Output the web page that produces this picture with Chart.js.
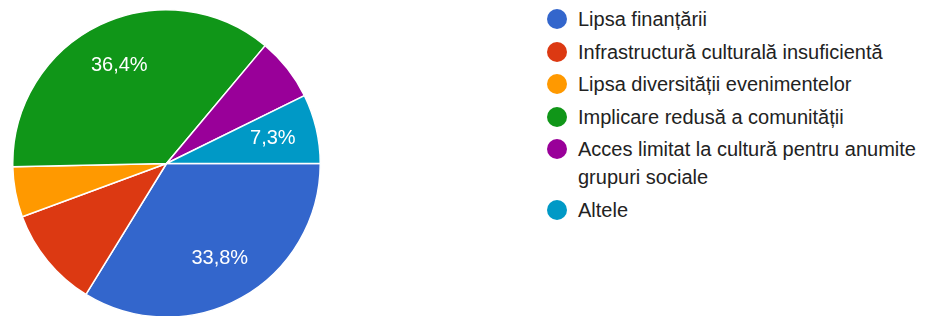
<!DOCTYPE html>
<html>
<head>
<meta charset="utf-8">
<script src="https://cdn.jsdelivr.net/npm/chart.js@4"></script>
<style>
    html, body { margin: 0; padding: 0; background: #fff; overflow: hidden; }
    body { width: 931px; height: 316px; position: relative; font-family: "Liberation Sans", Arial, sans-serif; }
    #pie-box { position: absolute; left: 12px; top: 9px; width: 309px; height: 309px; }
    #legend { position: absolute; left: 547px; top: 5px; width: 384px; font-size: 20px; color: #222; }
    .item { display: flex; align-items: flex-start; line-height: 28px; margin-bottom: 4.5px; }
    .dot { flex: none; width: 20px; height: 20px; border-radius: 50%; margin-top: 4px; margin-right: 11px; }
</style>
</head>
<body>
<div id="pie-box"><canvas id="chart"></canvas></div>
<div id="legend"></div>
<script>
// răspunsuri (n = 151)
const labels = [
    "Lipsa finanțării",
    "Infrastructură culturală insuficientă",
    "Lipsa diversității evenimentelor",
    "Implicare redusă a comunității",
    "Acces limitat la cultură pentru anumite grupuri sociale",
    "Altele",
];
const counts = [51, 16, 8, 55, 10, 11];
const colors = ["#3366cc", "#dc3912", "#ff9900", "#109618", "#990099", "#0099c6"];
// procentele afișate pe felii (doar pe cele mari)
const showPct = [true, false, false, true, false, true];

const total = counts.reduce((a, b) => a + b, 0);

function pctText(v) {
    return (v / total * 100).toFixed(1).replace(".", ",") + "%";
}

// etichete albe în interiorul feliilor
const sliceLabels = {
    id: "sliceLabels",
    afterDatasetsDraw(chart) {
        const ctx = chart.ctx;
        const meta = chart.getDatasetMeta(0);
        ctx.save();
        ctx.fillStyle = "#fff";
        ctx.font = '20px "Liberation Sans", Arial, sans-serif';
        ctx.textAlign = "center";
        ctx.textBaseline = "middle";
        meta.data.forEach((arc, i) => {
            if (!showPct[i]) return;
            const p = arc.getProps(["x", "y", "startAngle", "endAngle", "outerRadius"], true);
            const mid = (p.startAngle + p.endAngle) / 2;
            const r = p.outerRadius * 0.71;
            ctx.fillText(pctText(counts[i]), p.x + Math.cos(mid) * r, p.y + Math.sin(mid) * r);
        });
        ctx.restore();
    },
};

new Chart(document.querySelector("#chart"), {
    type: "pie",
    data: {
        labels: labels,
        datasets: [{
            data: counts,
            backgroundColor: colors,
            borderColor: "#fff",
            borderWidth: 1.5,
            hoverOffset: 0,
        }],
    },
    options: {
        responsive: true,
        maintainAspectRatio: false,
        animation: false,
        rotation: 90,                    // prima felie pornește de la ora 3
        layout: { padding: 0 },
        plugins: {
            legend: { display: false },
            tooltip: { enabled: false },
        },
    },
    plugins: [sliceLabels],
});

// legenda în HTML, ca să se poată rupe pe două rânduri
const legend = document.querySelector("#legend");
labels.forEach((name, i) => {
    const row = document.createElement("div");
    row.className = "item";
    const dot = document.createElement("span");
    dot.className = "dot";
    dot.style.background = colors[i];
    const txt = document.createElement("span");
    txt.textContent = name;
    row.appendChild(dot);
    row.appendChild(txt);
    legend.appendChild(row);
});
</script>
</body>
</html>
